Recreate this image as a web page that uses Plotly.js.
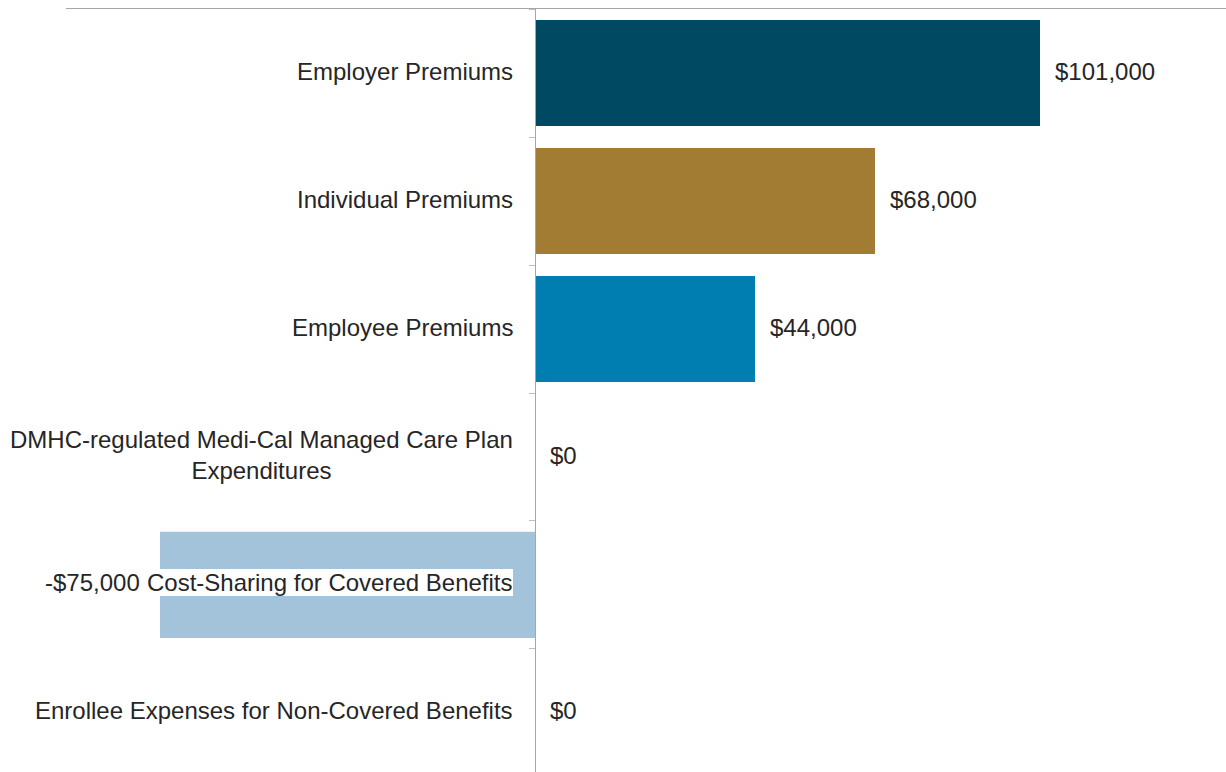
<!DOCTYPE html>
<html>
<head>
<meta charset="utf-8">
<script src="https://cdn.plot.ly/plotly-3.0.1.min.js"></script>
<style>
  html, body { margin: 0; padding: 0; background: #ffffff; }
  #chart { width: 1226px; height: 772px; }
</style>
</head>
<body>
<div id="chart"></div>
<script>
const categories = [
  "Employer Premiums",
  "Individual Premiums",
  "Employee Premiums",
  "DMHC-regulated Medi-Cal Managed Care Plan<br>Expenditures",
  "Cost-Sharing for Covered Benefits",
  "Enrollee Expenses for Non-Covered Benefits"
];
const values = [101000, 68000, 44000, 0, -75000, 0];
const barColors = ["#004963", "#A37C33", "#007EB1", "#A2C3D9", "#A2C3D9", "#A2C3D9"];

const FONT = '"Liberation Sans", Arial, sans-serif';
const TEXT_COLOR = "#262626";

function fmt(v) {
  const s = "$" + Math.abs(v).toLocaleString("en-US");
  return v < 0 ? "-" + s : s;
}

const trace = {
  type: "bar",
  orientation: "h",
  x: values,
  y: categories,
  marker: { color: barColors, line: { width: 0 } },
  hoverinfo: "skip",
  showlegend: false
};

const annotations = [];
categories.forEach((c, i) => {
  annotations.push({
    x: 0, y: c, xref: "x", yref: "y",
    text: c, showarrow: false,
    xanchor: "right", yanchor: "middle", align: "center",
    xshift: -22, yshift: 2,
    bgcolor: "#ffffff",
    borderpad: 0, borderwidth: 0,
    font: { family: FONT, size: 24, color: TEXT_COLOR }
  });
  const v = values[i];
  annotations.push({
    x: v, y: c, xref: "x", yref: "y",
    text: fmt(v), showarrow: false,
    xanchor: v < 0 ? "right" : "left", yanchor: "middle",
    xshift: v < 0 ? -20 : 15, yshift: 2,
    borderpad: 0, borderwidth: 0,
    font: { family: FONT, size: 24, color: TEXT_COLOR }
  });
});

const layout = {
  width: 1226, height: 772,
  margin: { l: 66, r: 0, t: 9, b: 0, pad: 0 },
  paper_bgcolor: "#ffffff",
  plot_bgcolor: "#ffffff",
  bargap: 0.17,
  font: { family: FONT, size: 24, color: TEXT_COLOR },
  xaxis: {
    side: "top",
    range: [-93800, 138200],
    showline: true, linecolor: "#a6a6a6", linewidth: 1,
    showgrid: false, zeroline: false,
    showticklabels: false, ticks: "",
    fixedrange: true
  },
  yaxis: {
    type: "category",
    categoryarray: categories,
    range: [5.461, -0.5],
    autorange: false,
    anchor: "free",
    position: 469 / 1160,
    showline: true, linecolor: "#a6a6a6", linewidth: 1,
    ticks: "outside", tickson: "boundaries", ticklen: 6, tickcolor: "#bfbfbf", tickwidth: 1,
    showticklabels: false, showgrid: false, zeroline: false,
    fixedrange: true
  },
  annotations: annotations
};

Plotly.newPlot("chart", [trace], layout, { displayModeBar: false, staticPlot: true });
</script>
</body>
</html>
